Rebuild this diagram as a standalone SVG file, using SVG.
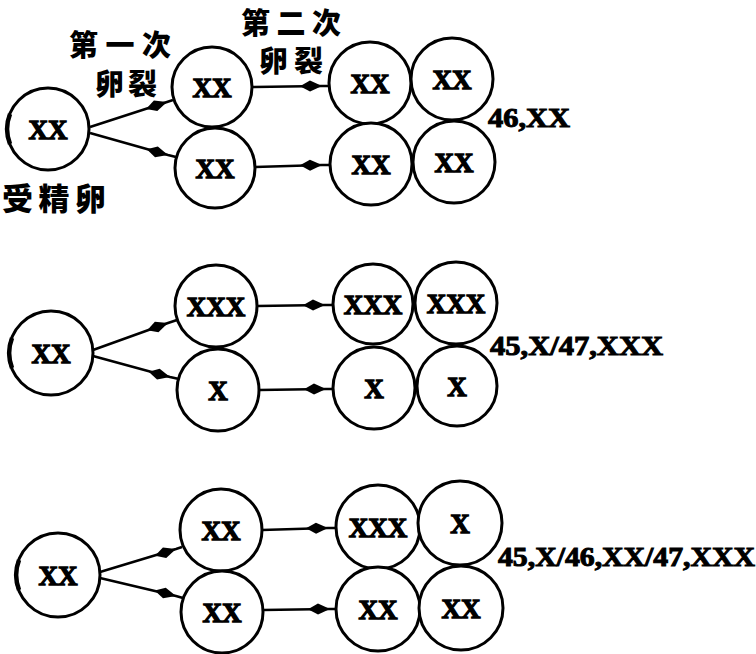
<svg xmlns="http://www.w3.org/2000/svg" width="756" height="654" viewBox="0 0 756 654">
<style>
.c{fill:#fff;stroke:#000;stroke-width:3}
.t{font-family:"Liberation Serif","Times New Roman",serif;font-weight:bold;font-size:27px;text-anchor:middle;fill:#000;stroke:#000;stroke-width:1.3}
.k{font-family:"Noto Sans CJK SC",sans-serif;font-weight:900;font-size:29px;text-anchor:middle;fill:#000}
.n{font-family:"Liberation Serif","Times New Roman",serif;font-weight:bold;font-size:27px;fill:#000;stroke:#000;stroke-width:1}
.a{fill:none;stroke:#000;stroke-width:2.5;marker-mid:url(#h)}
.s{fill:none;stroke:#000;stroke-width:4.5}
</style>
<defs>
<marker id="h" markerUnits="userSpaceOnUse" markerWidth="30" markerHeight="14" refX="24" refY="7" orient="auto" overflow="visible">
<path d="M2,7 L12,1.5 L24,7 L12,12.5 z" fill="#000"/>
</marker>
</defs>
<rect width="756" height="654" fill="#fff"/>
<g id="labels">
<text class="k" x="120" y="56" textLength="102" lengthAdjust="spacing">第一次</text>
<text class="k" x="126" y="95" textLength="62" lengthAdjust="spacing">卵裂</text>
<text class="k" x="291" y="34" textLength="100" lengthAdjust="spacing">第二次</text>
<text class="k" x="291" y="72" textLength="64" lengthAdjust="spacing">卵裂</text>
<text class="k" x="54" y="210" style="font-size:31px" textLength="104" lengthAdjust="spacing">受精卵</text>
</g>
<g id="connectors">
<path class="a" d="M90,127 L167,102 L173,100"/>
<path class="a" d="M90,133 L168,155 L176,157"/>
<path class="a" d="M253,87 L322,86 L329,86"/>
<path class="a" d="M255,167 L322,165 L330,165"/>
<path class="a" d="M93,350 L168,323 L177,320"/>
<path class="a" d="M93,356 L170,377 L179,379"/>
<path class="a" d="M257,306 L325,305 L333,305"/>
<path class="a" d="M259,390 L326,389 L334,389"/>
<path class="a" d="M100,572 L176,549 L182,547"/>
<path class="a" d="M100,578 L176,596 L183,598"/>
<path class="a" d="M262,530 L328,528 L336,528"/>
<path class="a" d="M263,610 L330,609 L336,609"/>
</g>
<g id="row1">
<g id="z1"><circle class="c" cx="48" cy="129" r="41"/><path class="s" d="M10,114 A41,41 0 0 0 10,144"/><text class="t" x="48" y="139">XX</text></g>
<g id="a1"><circle class="c" cx="212" cy="87" r="40"/><text class="t" x="212" y="97">XX</text></g>
<g id="b1"><circle class="c" cx="215" cy="168" r="40"/><text class="t" x="215" y="178">XX</text></g>
<g id="c1"><circle class="c" cx="370" cy="83" r="41"/><text class="t" x="370" y="93">XX</text></g>
<g id="d1"><circle class="c" cx="452" cy="79" r="41"/><text class="t" x="452" y="89">XX</text></g>
<g id="e1"><circle class="c" cx="371" cy="164" r="41"/><text class="t" x="371" y="174">XX</text></g>
<g id="f1"><circle class="c" cx="454" cy="162" r="41"/><text class="t" x="454" y="172">XX</text></g>
<text class="n" x="488" y="127" textLength="82" lengthAdjust="spacingAndGlyphs">46,XX</text>
</g>
<g id="row2">
<g id="z2"><circle class="c" cx="51" cy="353" r="42"/><path class="s" d="M12,338 A42,42 0 0 0 12,368"/><text class="t" x="51" y="363">XX</text></g>
<g id="a2"><circle class="c" cx="216" cy="306" r="41"/><text class="t" x="216" y="316">XXX</text></g>
<g id="b2"><circle class="c" cx="218" cy="390" r="41"/><text class="t" x="218" y="400">X</text></g>
<g id="c2"><circle class="c" cx="373" cy="304" r="40"/><text class="t" x="373" y="314">XXX</text></g>
<g id="d2"><circle class="c" cx="456" cy="303" r="41"/><text class="t" x="456" y="313">XXX</text></g>
<g id="e2"><circle class="c" cx="374" cy="388" r="41"/><text class="t" x="374" y="398">X</text></g>
<g id="f2"><circle class="c" cx="457" cy="386" r="40"/><text class="t" x="457" y="396">X</text></g>
<text class="n" x="490" y="355" textLength="173" lengthAdjust="spacingAndGlyphs">45,X/47,XXX</text>
</g>
<g id="row3">
<g id="z3"><circle class="c" cx="58" cy="575" r="42"/><path class="s" d="M19,560 A42,42 0 0 0 19,590"/><text class="t" x="58" y="585">XX</text></g>
<g id="a3"><circle class="c" cx="221" cy="530" r="41"/><text class="t" x="221" y="540">XX</text></g>
<g id="b3"><circle class="c" cx="222" cy="612" r="41"/><text class="t" x="222" y="622">XX</text></g>
<g id="c3"><circle class="c" cx="378" cy="527" r="42"/><text class="t" x="378" y="537">XXX</text></g>
<g id="d3"><circle class="c" cx="460" cy="523" r="42"/><text class="t" x="460" y="533">X</text></g>
<g id="e3"><circle class="c" cx="378" cy="609" r="42"/><text class="t" x="378" y="619">XX</text></g>
<g id="f3"><circle class="c" cx="461" cy="608" r="42"/><text class="t" x="461" y="618">XX</text></g>
<text class="n" x="498" y="566" textLength="257" lengthAdjust="spacingAndGlyphs">45,X/46,XX/47,XXX</text>
</g>
</svg>
